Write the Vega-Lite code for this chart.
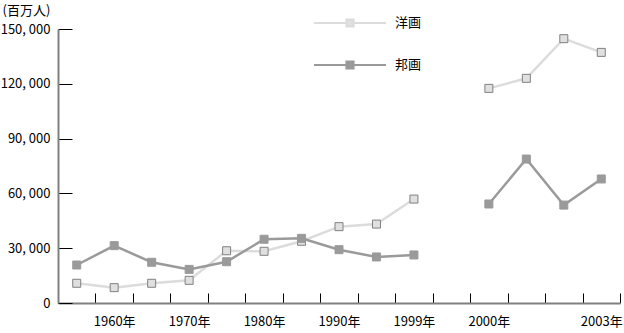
{
  "$schema": "https://vega.github.io/schema/vega-lite/v6.json",
  "autosize": {"type": "none"},
  "padding": {"left": 58, "top": 29, "right": 4, "bottom": 30},
  "width": 562,
  "height": 274,
  "background": "white",
  "config": {
    "view": {"stroke": null},
    "font": "Noto Sans CJK JP"
  },
  "data": {
    "values": [
      {"year": "1955", "series": "洋画", "value": 10800, "period": "a"},
      {"year": "1960", "series": "洋画", "value": 8400, "period": "a"},
      {"year": "1965", "series": "洋画", "value": 10800, "period": "a"},
      {"year": "1970", "series": "洋画", "value": 12400, "period": "a"},
      {"year": "1975", "series": "洋画", "value": 28600, "period": "a"},
      {"year": "1980", "series": "洋画", "value": 28300, "period": "a"},
      {"year": "1985", "series": "洋画", "value": 33800, "period": "a"},
      {"year": "1990", "series": "洋画", "value": 41800, "period": "a"},
      {"year": "1995", "series": "洋画", "value": 43200, "period": "a"},
      {"year": "1999", "series": "洋画", "value": 56900, "period": "a"},
      {"year": "2000", "series": "洋画", "value": 117500, "period": "b"},
      {"year": "2001", "series": "洋画", "value": 123000, "period": "b"},
      {"year": "2002", "series": "洋画", "value": 144700, "period": "b"},
      {"year": "2003", "series": "洋画", "value": 137200, "period": "b"},
      {"year": "1955", "series": "邦画", "value": 20800, "period": "a"},
      {"year": "1960", "series": "邦画", "value": 31400, "period": "a"},
      {"year": "1965", "series": "邦画", "value": 22300, "period": "a"},
      {"year": "1970", "series": "邦画", "value": 18400, "period": "a"},
      {"year": "1975", "series": "邦画", "value": 22600, "period": "a"},
      {"year": "1980", "series": "邦画", "value": 34900, "period": "a"},
      {"year": "1985", "series": "邦画", "value": 35400, "period": "a"},
      {"year": "1990", "series": "邦画", "value": 29200, "period": "a"},
      {"year": "1995", "series": "邦画", "value": 25200, "period": "a"},
      {"year": "1999", "series": "邦画", "value": 26300, "period": "a"},
      {"year": "2000", "series": "邦画", "value": 54200, "period": "b"},
      {"year": "2001", "series": "邦画", "value": 78800, "period": "b"},
      {"year": "2002", "series": "邦画", "value": 53600, "period": "b"},
      {"year": "2003", "series": "邦画", "value": 67900, "period": "b"}
    ]
  },
  "encoding": {
    "x": {
      "field": "year",
      "type": "ordinal",
      "scale": {
        "type": "band",
        "domain": ["1955","1960","1965","1970","1975","1980","1985","1990","1995","1999"," ","2000","2001","2002","2003"],
        "paddingInner": 0,
        "paddingOuter": 0
      },
      "axis": {
        "title": null,
        "labelAngle": 0,
        "tickBand": "extent",
        "tickSize": -10,
        "tickColor": "#000000",
        "tickWidth": 1,
        "domainColor": "#808080",
        "domainWidth": 2,
        "labelFontSize": 13,
        "labelColor": "#000000",
        "labelPadding": 22,
        "labelExpr": "indexof(['1960','1970','1980','1990','1999','2000','2003'], datum.value) >= 0 ? datum.value + '年' : ''"
      }
    },
    "y": {
      "field": "value",
      "type": "quantitative",
      "scale": {"domain": [0, 150000], "nice": false},
      "axis": {
        "title": "(百万人)",
        "titleAngle": 0,
        "titleAlign": "left",
        "titleBaseline": "middle",
        "titleX": -56,
        "titleY": -19,
        "titleFontSize": 13,
        "titleFontWeight": "normal",
        "titleColor": "#000000",
        "values": [0, 30000, 60000, 90000, 120000, 150000],
        "grid": false,
        "tickSize": -14,
        "tickColor": "#000000",
        "tickWidth": 1,
        "domainColor": "#808080",
        "domainWidth": 2,
        "labelFontSize": 13,
        "labelColor": "#000000",
        "labelPadding": 22,
        "labelExpr": "replace(format(datum.value, ','), ',', ', ')"
      }
    }
  },
  "layer": [
    {
      "mark": {"type": "line", "strokeWidth": 2.5},
      "encoding": {
        "color": {
          "field": "series",
          "type": "nominal",
          "scale": {"domain": ["洋画", "邦画"], "range": ["#dcdcdc", "#9a9a9a"]},
          "legend": {
            "title": null,
            "orient": "none",
            "legendX": 255,
            "legendY": -14,
            "symbolType": "M-1,0H-0.1M0.1,0H1M-0.1,-0.1H0.1V0.1H-0.1Z",
            "symbolSize": 5184,
            "symbolStrokeWidth": 2,
            "labelFontSize": 13,
            "labelColor": "#000000",
            "labelOffset": 8,
            "clipHeight": 16,
            "rowPadding": 26,
            "encode": {
              "symbols": {
                "update": {
                  "fill": {"signal": "datum.value === '洋画' ? '#e0e0e0' : '#9a9a9a'"},
                  "fillOpacity": {"value": 1}
                }
              }
            }
          }
        },
        "detail": {"field": "period"}
      }
    },
    {
      "mark": {"type": "point", "shape": "square", "filled": true, "size": 64, "opacity": 1, "strokeWidth": 1},
      "encoding": {
        "fill": {
          "field": "series",
          "type": "nominal",
          "scale": {"domain": ["洋画", "邦画"], "range": ["#e0e0e0", "#9a9a9a"]},
          "legend": null
        },
        "stroke": {
          "field": "series",
          "type": "nominal",
          "scale": {"domain": ["洋画", "邦画"], "range": ["#808080", "#9a9a9a"]},
          "legend": null
        }
      }
    }
  ]
}
